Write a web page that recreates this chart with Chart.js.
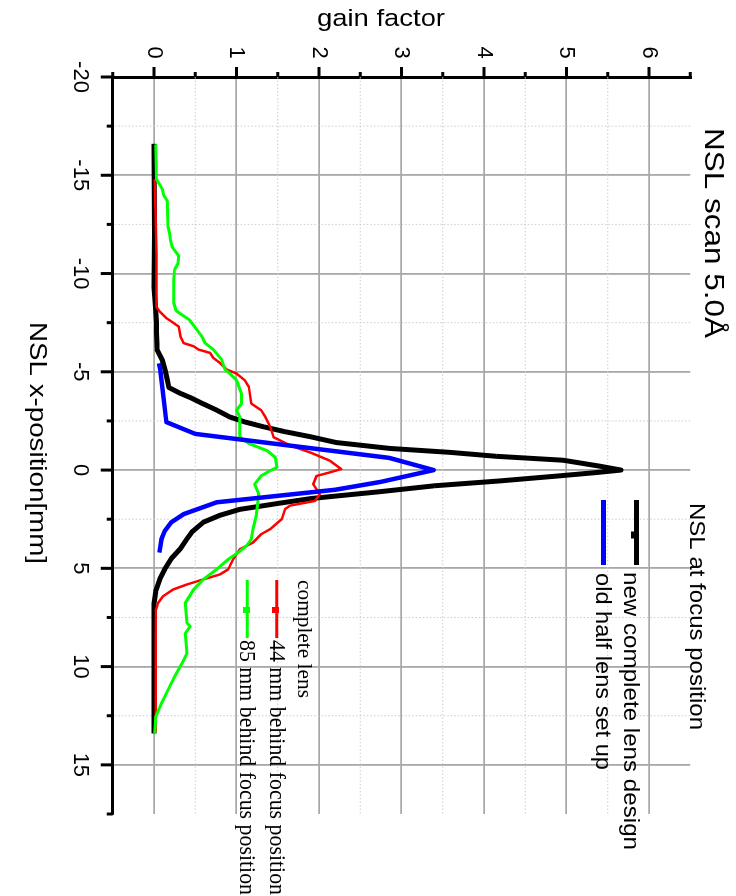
<!DOCTYPE html>
<html>
<head>
<meta charset="utf-8">
<script src="https://cdn.jsdelivr.net/npm/chart.js@4.4.0/dist/chart.umd.min.js"></script>
<style>
html, body { margin: 0; padding: 0; background: #fff; overflow: hidden; }
#girado { position: absolute; left: 0; top: 0; width: 896px; height: 736px; transform-origin: 0 0; transform: translate(736px, 0) rotate(90deg); }
</style>
</head>
<body>
<div id="girado"><canvas id="grafica" width="896" height="736"></canvas></div>
<script>
// ticks
const posTicks = [-20, -15, -10, -5, 0, 5, 10, 15];
const posMinor = [-17.5, -12.5, -7.5, -2.5, 2.5, 7.5, 12.5, 17.5];
const gainTicks = [0, 1, 2, 3, 4, 5, 6];
const gainMinor = [-0.5, 0.5, 1.5, 2.5, 3.5, 4.5, 5.5, 6.5];

// NSL at focus position: new complete lens design
const nuevaX = [-16.6, -12.0, -9.3, -8.1, -7.5, -7.0, -6.1, -5.6, -5.0, -4.6, -4.2, -3.9, -3.65, -3.4, -3.05, -2.7, -2.45, -2.2, -1.95, -1.7, -1.4, -1.1, -0.9, -0.7, -0.5, -0.2, 0.0, 0.12, 0.3, 0.55, 0.8, 1.1, 1.45, 1.7, 2.0, 2.3, 2.65, 3.15, 3.5, 4.0, 4.5, 5.05, 5.55, 6.1, 6.8, 10.0, 13.4];
const nuevaY = [0.0, 0.005, 0.0, 0.02, 0.03, 0.03, 0.04, 0.10, 0.14, 0.16, 0.18, 0.32, 0.46, 0.58, 0.76, 0.92, 1.10, 1.33, 1.59, 1.89, 2.21, 2.86, 3.59, 4.15, 4.96, 5.4, 5.66, 5.38, 4.9, 4.2, 3.4, 2.74, 1.9, 1.5, 1.04, 0.8, 0.6, 0.46, 0.4, 0.32, 0.21, 0.13, 0.07, 0.025, 0.0, 0.0, 0.0];

// old half lens set up
const viejaX = [-5.43, -5.0, -2.44, -1.84, -0.62, 0.0, 0.6, 1.0, 1.64, 2.24, 2.66, 3.1, 3.52, 4.2];
const viejaY = [0.06, 0.08, 0.15, 0.5, 2.85, 3.39, 2.75, 2.2, 0.76, 0.36, 0.21, 0.13, 0.09, 0.065];

// complete lens, 44 mm behind focus position
const lente44X = [-14.8, -11.0, -8.3, -8.06, -7.73, -7.56, -7.3, -6.8, -6.46, -6.3, -6.13, -5.96, -5.7, -5.45, -5.12, -4.91, -4.57, -4.23, -3.38, -3.04, -2.7, -2.18, -1.67, -1.25, -0.9, -0.48, -0.05, 0.12, 0.3, 0.72, 1.23, 1.57, 1.81, 1.98, 2.49, 3.0, 3.26, 3.69, 4.03, 4.54, 5.05, 5.31, 5.56, 5.82, 6.08, 6.42, 6.76, 7.1, 9.0, 13.3];
const lente44Y = [0.01, 0.03, 0.03, 0.07, 0.15, 0.21, 0.30, 0.32, 0.36, 0.48, 0.54, 0.68, 0.72, 0.80, 0.88, 1.00, 1.10, 1.15, 1.18, 1.30, 1.35, 1.41, 1.45, 1.65, 1.89, 2.13, 2.27, 2.13, 1.97, 1.93, 2.01, 1.95, 1.65, 1.59, 1.55, 1.41, 1.30, 1.20, 1.04, 0.96, 0.90, 0.80, 0.60, 0.40, 0.23, 0.11, 0.05, 0.025, 0.02, 0.02];

// complete lens, 85 mm behind focus position
const lente85X = [-16.57, -14.8, -14.3, -13.96, -13.7, -12.4, -12.0, -11.7, -11.35, -10.9, -10.5, -10.2, -9.7, -8.5, -8.1, -7.98, -7.64, -7.14, -6.8, -6.46, -6.13, -5.62, -5.12, -4.91, -4.57, -3.9, -3.38, -3.04, -2.7, -1.67, -1.33, -0.99, -0.65, -0.14, 0.03, 0.29, 0.72, 1.23, 2.32, 3.0, 3.52, 3.86, 4.2, 4.54, 5.05, 5.56, 6.08, 6.76, 7.78, 7.95, 8.3, 9.32, 9.83, 10.51, 11.19, 11.88, 12.56, 13.4];
const lente85Y = [0.02, 0.03, 0.10, 0.12, 0.16, 0.17, 0.19, 0.20, 0.22, 0.30, 0.29, 0.25, 0.24, 0.24, 0.27, 0.31, 0.43, 0.52, 0.58, 0.62, 0.72, 0.82, 0.86, 0.92, 1.00, 1.06, 1.06, 1.00, 1.04, 1.04, 1.16, 1.37, 1.47, 1.49, 1.41, 1.30, 1.22, 1.27, 1.24, 1.20, 1.18, 1.12, 1.02, 0.90, 0.76, 0.60, 0.48, 0.38, 0.40, 0.44, 0.38, 0.40, 0.34, 0.25, 0.17, 0.09, 0.02, 0.01];

const SANS = '"Liberation Sans", Arial, sans-serif';
const SERIF = '"Liberation Serif", "Times New Roman", serif';

const aPuntos = (xs, ys) => xs.map((x, i) => ({ x: x, y: ys[i] }));

// texto estirado al ancho que tiene en la imagen
function texto(ctx, str, x, y, font, ancho, align, giro) {
    ctx.save();
    ctx.font = font;
    const w = ctx.measureText(str).width;
    ctx.translate(x, y);
    if (giro) ctx.rotate(giro);
    ctx.scale(ancho ? ancho / w : 1, 1);
    ctx.textAlign = align || 'left';
    ctx.textBaseline = 'middle';
    ctx.fillStyle = '#000';
    ctx.fillText(str, 0, 0);
    ctx.restore();
}

function linea(ctx, x1, y1, x2, y2, color, ancho) {
    ctx.beginPath();
    ctx.moveTo(x1, y1);
    ctx.lineTo(x2, y2);
    ctx.strokeStyle = color;
    ctx.lineWidth = ancho;
    ctx.stroke();
}

const decoracion = {
    id: 'decoracion',
    beforeDatasetsDraw(chart) {
        const { ctx, chartArea: a, scales: { x, y } } = chart;
        ctx.save();
        ctx.setLineDash([1.5, 2]);
        posMinor.forEach(v => {
            if (v >= x.max) return;
            const px = x.getPixelForValue(v);
            linea(ctx, px, a.top, px, a.bottom, '#cccccc', 1);
        });
        gainMinor.forEach(v => {
            if (v <= y.min || v >= y.max) return;
            const py = y.getPixelForValue(v);
            linea(ctx, a.left, py, a.right, py, '#cccccc', 1);
        });
        ctx.restore();
    },
    afterDraw(chart) {
        const { ctx, chartArea: a, scales: { x, y } } = chart;
        ctx.save();
        ctx.lineCap = 'butt';

        // marcas de los ejes
        posTicks.forEach(v => {
            const px = x.getPixelForValue(v);
            linea(ctx, px, a.bottom, px, a.bottom + 12, '#000', 3);
            texto(ctx, String(v), px, 656, '22px ' + SANS, null, 'center');
        });
        posMinor.forEach(v => {
            const px = x.getPixelForValue(v);
            linea(ctx, px, a.bottom, px, a.bottom + 6, '#000', 3);
        });
        gainTicks.forEach(v => {
            const py = y.getPixelForValue(v);
            linea(ctx, a.left, py, a.left - 10, py, '#000', 3);
            texto(ctx, String(v), 52.5, py, '22px ' + SANS, null, 'center');
        });
        gainMinor.forEach(v => {
            const py = y.getPixelForValue(v);
            linea(ctx, a.left, py, a.left - 5, py, '#000', 3);
        });

        // titulos
        texto(ctx, 'gain factor', 19, 355, '24px ' + SANS, 128, 'center', -Math.PI / 2);
        texto(ctx, 'NSL x-position[mm]', 443, 699, '24px ' + SANS, 242, 'center');
        texto(ctx, 'NSL scan 5.0Å', 128, 23, '28px ' + SANS, 210, 'left');

        // leyenda: NSL at focus position
        texto(ctx, 'NSL at focus position', 503, 40, '22px ' + SANS, 227, 'left');
        linea(ctx, 500, 99.5, 565, 99.5, '#000', 5);
        ctx.fillStyle = '#000';
        ctx.fillRect(531.5, 98, 7, 7);
        texto(ctx, 'new complete lens design', 572, 106, '22px ' + SANS, 278, 'left');
        linea(ctx, 500, 132.5, 565, 132.5, '#0000ff', 5);
        texto(ctx, 'old half lens set up', 573, 134, '22px ' + SANS, 197, 'left');

        // leyenda: complete lens
        texto(ctx, 'complete lens', 580, 432, '22px ' + SERIF, 118, 'left');
        linea(ctx, 580, 459.3, 638, 459.3, '#ff0000', 3);
        ctx.fillStyle = '#ff0000';
        ctx.fillRect(607, 457, 6, 7);
        texto(ctx, '44 mm behind focus position', 640, 460, '23px ' + SERIF, 255, 'left');
        linea(ctx, 580, 488.7, 638, 488.7, '#00ff00', 3);
        ctx.fillStyle = '#00ff00';
        ctx.fillRect(607, 486, 6, 7);
        texto(ctx, '85 mm behind focus position', 640, 489.5, '23px ' + SERIF, 255, 'left');
        ctx.restore();
    }
};

const ctx = document.getElementById('grafica');
new Chart(ctx, {
    type: 'line',
    data: {
        datasets: [
            { label: 'old half lens set up', data: aPuntos(viejaX, viejaY), borderColor: '#0000ff', borderWidth: 4.5, order: 0 },
            { label: '85 mm behind focus position', data: aPuntos(lente85X, lente85Y), borderColor: '#00ff00', borderWidth: 3, order: 1 },
            { label: '44 mm behind focus position', data: aPuntos(lente44X, lente44Y), borderColor: '#ff0000', borderWidth: 2.5, order: 2 },
            { label: 'new complete lens design', data: aPuntos(nuevaX, nuevaY), borderColor: '#000000', borderWidth: 5, order: 3 }
        ]
    },
    options: {
        responsive: false,
        animation: false,
        devicePixelRatio: 1,
        elements: {
            point: { radius: 0 },
            line: { tension: 0, fill: false, borderJoinStyle: 'round' }
        },
        layout: { padding: { left: 0, right: 82, top: 45.75, bottom: 0 } },
        plugins: { legend: { display: false }, tooltip: { enabled: false } },
        scales: {
            x: {
                type: 'linear',
                min: -20,
                max: 17.5,
                afterBuildTicks: (s) => { s.ticks = posTicks.map(v => ({ value: v })); },
                afterFit: (s) => { s.height = 112.75; },
                ticks: { display: false },
                grid: { color: '#a8a8a8', lineWidth: 1.8, drawTicks: false },
                border: { color: '#000', width: 3 }
            },
            y: {
                type: 'linear',
                min: -0.5,
                max: 6.5,
                afterBuildTicks: (s) => { s.ticks = gainTicks.map(v => ({ value: v })); },
                afterFit: (s) => { s.width = 77; },
                ticks: { display: false },
                grid: { color: '#a8a8a8', lineWidth: 1.8, drawTicks: false },
                border: { color: '#000', width: 3 }
            }
        }
    },
    plugins: [decoracion]
});
</script>
</body>
</html>
